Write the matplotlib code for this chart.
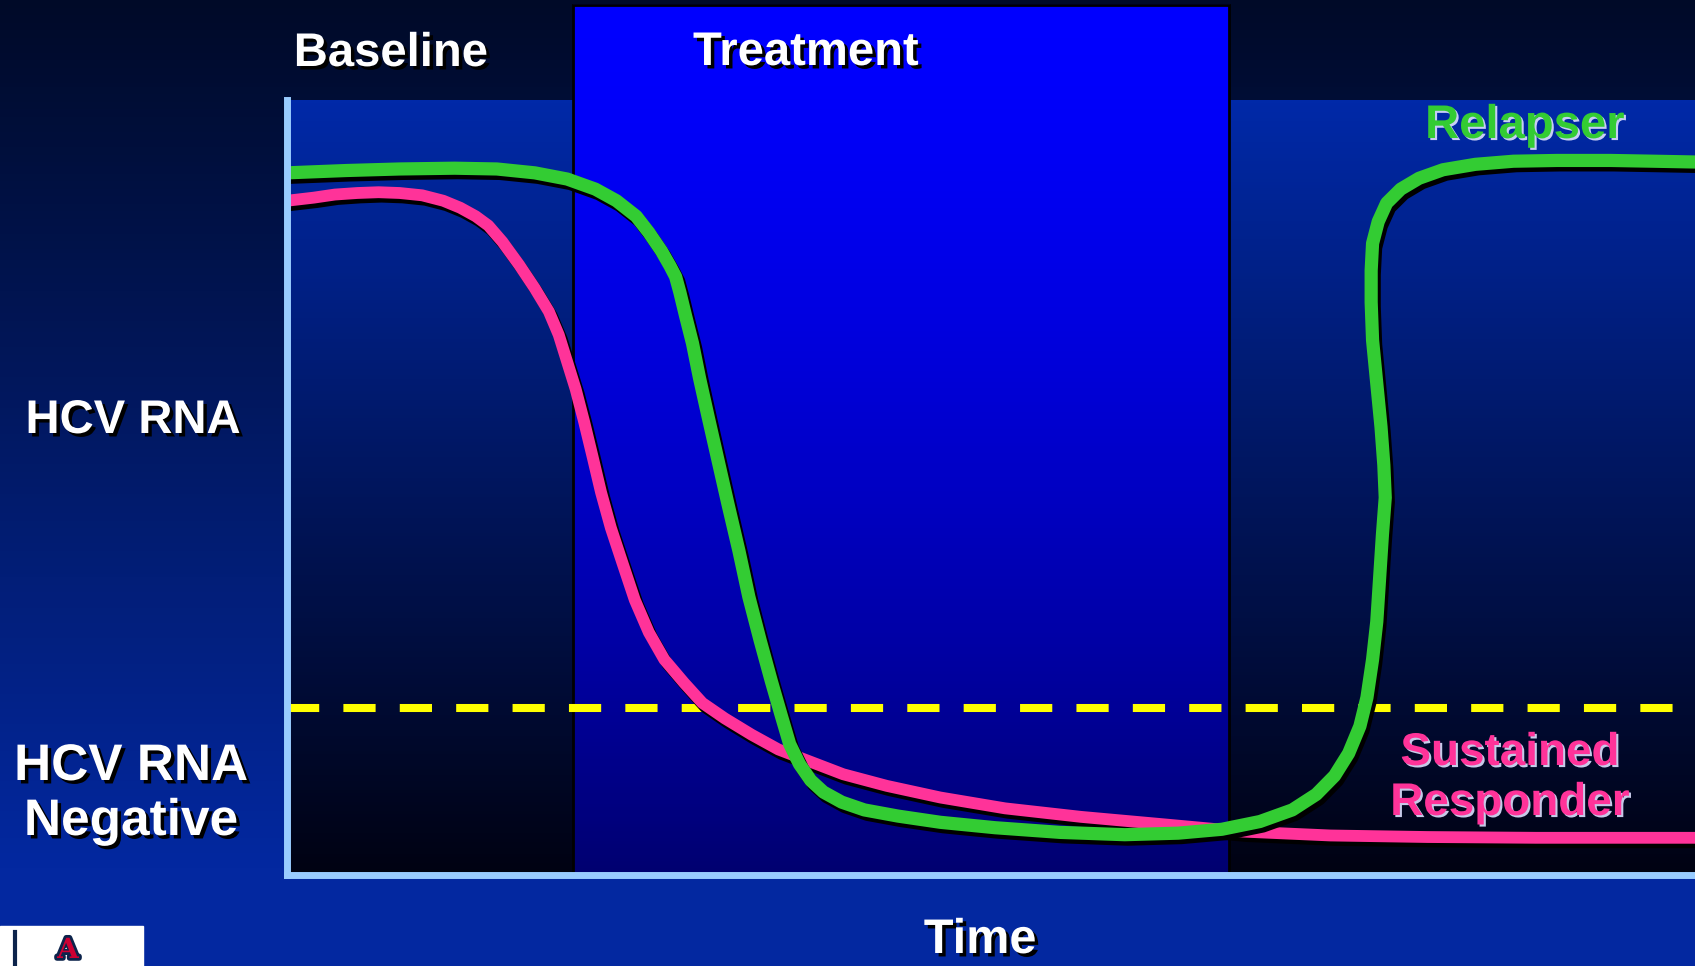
import numpy as np
import matplotlib.pyplot as plt
import matplotlib.patheffects as pe
from matplotlib.patches import Rectangle

plt.rcParams['font.family'] = ['Liberation Sans', 'DejaVu Sans']
plt.rcParams['font.weight'] = 'bold'

# phases along the time axis (arbitrary units, 0-100)
baseline_end = 20.3
treatment_end = 66.9
negative_cutoff = 21.5   # detection limit for HCV RNA

# sustained responder (pink)
sr_time = [0.0, 1.9, 3.4, 5.0, 6.5, 8.0, 9.6, 11.1, 12.3, 13.4, 14.3, 15.3,
           16.5, 17.6, 18.6, 19.3, 19.9, 20.5, 21.1, 21.7, 22.3, 23.0, 23.8,
           24.7, 25.7, 26.8, 28.2, 29.5, 31.1, 33.0, 34.9, 37.2, 39.5, 42.6,
           46.4, 51.0, 56.4, 62.5, 67.9, 74.1, 81.0, 88.7, 100.0]
sr_level = [87.0, 87.4, 87.8, 88.0, 88.1, 88.0, 87.7, 87.0, 86.1, 85.0, 83.8,
            81.7, 78.7, 75.7, 72.7, 69.7, 66.2, 62.7, 58.5, 54.0, 49.4, 44.8,
            40.4, 35.5, 31.3, 27.8, 24.8, 22.2, 20.2, 18.1, 16.2, 14.6, 13.0,
            11.5, 10.0, 8.6, 7.5, 6.5, 5.6, 5.1, 4.9, 4.8, 4.8]

# relapser (green)
rel_time = [0.0, 4.2, 8.0, 11.9, 14.9, 17.6, 19.9, 21.9, 23.4, 24.8, 25.7,
            26.6, 27.2, 27.6, 27.9, 28.3, 28.8, 29.3, 29.9, 30.6, 31.3, 32.1,
            32.8, 33.6, 34.4, 35.1, 35.7, 36.4, 37.2, 38.1, 39.4, 41.0, 43.4,
            46.4, 50.3, 54.9, 59.5, 63.3, 66.4, 69.1, 71.4, 73.1, 74.4, 75.4,
            76.2, 76.7, 77.1, 77.4, 77.6, 77.8, 78.0, 77.9, 77.7, 77.4, 77.1,
            77.0, 77.0, 77.1, 77.5, 78.1, 79.1, 80.4, 82.1, 84.4, 87.1, 90.2,
            94.0, 97.1, 100.0]
rel_level = [90.6, 90.9, 91.1, 91.2, 91.1, 90.6, 89.8, 88.5, 87.0, 85.0, 82.9,
             80.5, 78.6, 77.2, 75.2, 72.2, 68.6, 64.1, 59.2, 53.6, 48.0, 41.8,
             35.9, 30.3, 25.0, 20.6, 16.9, 14.3, 12.2, 10.7, 9.4, 8.4, 7.6,
             6.8, 6.1, 5.5, 5.2, 5.4, 5.9, 6.9, 8.4, 10.4, 12.8, 15.7,
             19.2, 22.9, 27.8, 32.7, 38.3, 43.9, 48.7, 52.9, 57.8, 63.4, 69.0,
             73.9, 78.0, 81.5, 84.3, 86.7, 88.5, 89.9, 91.0, 91.7, 92.1, 92.2,
             92.2, 92.1, 92.0]

W, H = 1695, 966
fig = plt.figure(figsize=(W / 100, H / 100), dpi=100)


def vgrad(top, bottom, n=256, power=1.0, stop=1.0):
    f = np.clip(np.linspace(0, 1, n) / stop, 0, 1) ** power
    top, bottom = np.array(top) / 255, np.array(bottom) / 255
    return (top + (bottom - top) * f[:, None])[:, None, :]


# slide background
bg = fig.add_axes([0, 0, 1, 1], zorder=0)
bg.imshow(vgrad((0, 10, 40), (3, 40, 160), stop=0.9), extent=[0, W, H, 0], aspect='auto')
bg.add_patch(Rectangle((0, 926), 143, 40, color='white'))
bg.plot([15, 15], [932, 966], color='#0c234b', lw=3)
bg.text(68, 964, 'A', ha='center', va='bottom', fontsize=20, color='#cc0033',
        family='DejaVu Serif', fontweight='bold',
        path_effects=[pe.withStroke(linewidth=4, foreground='#0c234b')])
bg.set_xlim(0, W)
bg.set_ylim(H, 0)
bg.axis('off')

# chart
ax = fig.add_axes([287 / W, (H - 875) / H, (W - 287) / W, 775 / H], zorder=1)
ax.patch.set_visible(False)
ax.imshow(vgrad((0, 41, 168), (0, 2, 18)), extent=[0, 100, 0, 100], aspect='auto', zorder=0)

box_top = 112.3
ax.imshow(vgrad((0, 0, 255), (0, 0, 112), power=1.5), extent=[baseline_end, treatment_end, 0, box_top],
          aspect='auto', zorder=1, clip_on=False)
ax.add_patch(Rectangle((baseline_end, 0), treatment_end - baseline_end, box_top, fill=False,
                       edgecolor='black', lw=2, zorder=2, clip_on=False))

ax.axhline(negative_cutoff, color='#ffff00', lw=5.8, dashes=(4, 3), zorder=3)

shadow = [pe.SimpleLineShadow(offset=(2.2, -3.2), shadow_color='black', alpha=1.0), pe.Normal()]
ax.plot(sr_time, sr_level, color='#ff3399', lw=8.5, solid_joinstyle='round',
        path_effects=shadow, zorder=4)
ax.plot(rel_time, rel_level, color='#33cc33', lw=9.5, solid_joinstyle='round',
        path_effects=shadow, zorder=5)

ax.set_xlim(0, 100)
ax.set_ylim(0, 100)
ax.set_xticks([])
ax.set_yticks([])
for side in ['top', 'right']:
    ax.spines[side].set_visible(False)
for side in ['left', 'bottom']:
    ax.spines[side].set_color('#99ccff')
    ax.spines[side].set_linewidth(5)
    ax.spines[side].set_capstyle('projecting')
    ax.spines[side].set_zorder(6)

# labels (pixel positions from the slide)
dark = [pe.withSimplePatchShadow(offset=(2.5, -2.5), shadow_rgbFace='black', alpha=1.0)]
light = [pe.withSimplePatchShadow(offset=(1.5, -1.5), shadow_rgbFace='#dde0ff', alpha=0.9)]


def label(x, y, s, size=34, color='white', fx=dark):
    fig.text(x / W, 1 - y / H, s, ha='center', va='baseline', fontsize=size,
             color=color, fontweight='bold', path_effects=fx, zorder=10)


label(391, 66, 'Baseline')
label(806, 65, 'Treatment')
label(133, 433, 'HCV RNA')
label(131, 780, 'HCV RNA', size=37)
label(131, 835, 'Negative', size=37)
label(980, 953, 'Time', size=35)
label(1525, 138, 'Relapser', color='#33cc33', fx=light)
label(1510, 765, 'Sustained', size=33, color='#ff3399', fx=light)
label(1510, 815, 'Responder', size=33, color='#ff3399', fx=light)

fig.savefig('out.png', dpi=100)
